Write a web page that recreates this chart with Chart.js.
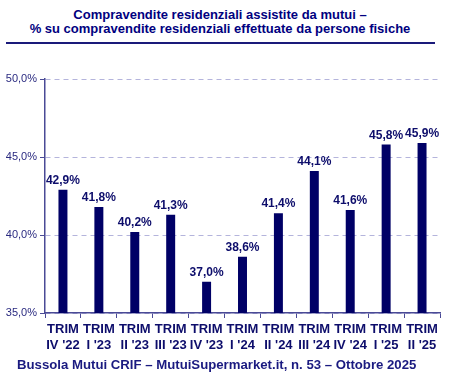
<!DOCTYPE html>
<html><head><meta charset="utf-8">
<script src="https://cdn.jsdelivr.net/npm/chart.js@4"></script>
<style>
html,body{margin:0;padding:0;background:#fff;width:450px;height:380px;overflow:hidden;font-family:"Liberation Sans",Arial,sans-serif;}
#title{position:absolute;left:0;top:8px;width:440px;text-align:center;font-weight:bold;font-size:13px;line-height:14px;color:#000080;}
#rule{position:absolute;left:6px;top:42px;width:429px;height:2px;background:#1a1a7a;}
#wrap{position:absolute;left:0;top:0;width:450px;height:380px;}
#footer{position:absolute;left:17px;top:357px;font-weight:bold;font-size:13.2px;color:#1a1a80;white-space:nowrap;}
</style></head>
<body>
<div id="title">Compravendite residenziali assistite da mutui –<br>% su compravendite residenziali effettuate da persone fisiche</div>
<div id="rule"></div>
<div id="wrap"><canvas id="c" width="450" height="380"></canvas></div>
<div id="footer">Bussola Mutui CRIF – MutuiSupermarket.it, n. 53 – Ottobre 2025</div>
<script>
const categories = [["TRIM","IV '22"],["TRIM","I '23"],["TRIM","II '23"],["TRIM","III '23"],["TRIM","IV '23"],["TRIM","I '24"],["TRIM","II '24"],["TRIM","III '24"],["TRIM","IV '24"],["TRIM","I '25"],["TRIM","II '25"]];
const values = [42.9, 41.8, 40.2, 41.3, 37.0, 38.6, 41.4, 44.1, 41.6, 45.8, 45.9];
const yTicks = [35, 40, 45, 50];

const fmt = v => v.toFixed(1).replace('.', ',') + '%';

const labelPlugin = {
  id: 'vlabels',
  afterDatasetsDraw(chart) {
    const ctx = chart.ctx;
    const meta = chart.getDatasetMeta(0);
    ctx.save();
    ctx.font = 'bold 12px "Liberation Sans", Arial, sans-serif';
    ctx.fillStyle = '#0d0d6b';
    ctx.textAlign = 'center';
    ctx.textBaseline = 'bottom';
    meta.data.forEach((bar, i) => {
      ctx.fillText(fmt(values[i]), bar.x, bar.y - 3);
    });
    ctx.restore();
  }
};

new Chart(document.getElementById('c'), {
  type: 'bar',
  data: {
    labels: categories,
    datasets: [{
      data: values,
      backgroundColor: '#000066',
      borderWidth: 0,
      barPercentage: 0.5,
      categoryPercentage: 0.5
    }]
  },
  options: {
    responsive: false,
    animation: false,
    devicePixelRatio: 1,
    layout: { padding: { top: 79, right: 10, left: 0, bottom: 0 } },
    plugins: { legend: { display: false }, tooltip: { enabled: false } },
    scales: {
      x: {
        afterFit: s => { s.height = 67; },
        grid: { display: true, drawOnChartArea: false, offset: true, tickLength: 5, color: '#4a4a96', lineWidth: 1 },
        border: { display: true, color: '#4a4a96', width: 1.5 },
        ticks: {
          color: '#0d0d6b',
          padding: 4,
          maxRotation: 0,
          autoSkip: false,
          font: { family: '"Liberation Sans", Arial, sans-serif', size: 13, weight: 'bold', lineHeight: 1.2 }
        }
      },
      y: {
        min: 35, max: 50,
        afterFit: s => { s.width = 45; },
        afterBuildTicks: s => { s.ticks = yTicks.map(v => ({ value: v })); },
        grid: { color: '#b4b4dc', lineWidth: 1, tickLength: 5, tickColor: '#4a4a96', drawTicks: true },
        border: { display: true, color: '#4a4a96', width: 1.5, dash: [5, 4] },
        ticks: {
          color: '#2a2a80',
          padding: 3,
          font: { family: '"Liberation Sans", Arial, sans-serif', size: 11 },
          callback: v => fmt(v)
        }
      }
    }
  },
  plugins: [labelPlugin]
});
</script>
</body></html>
